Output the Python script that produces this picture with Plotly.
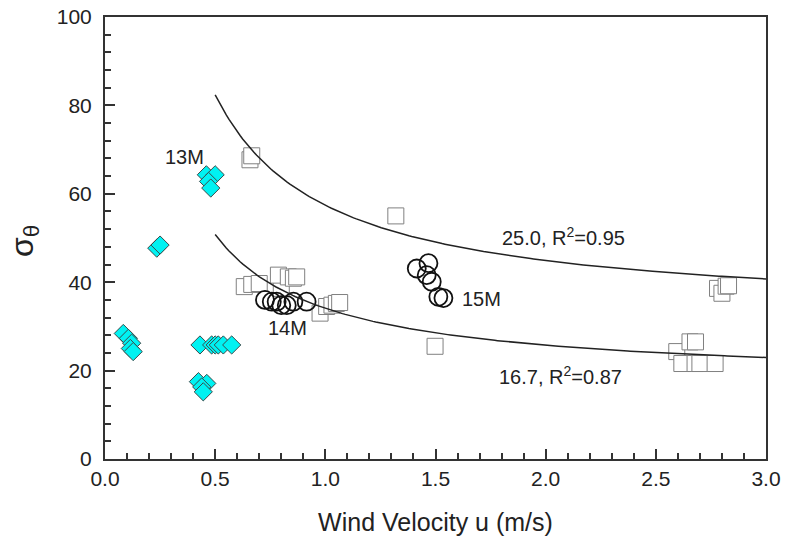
import numpy as np
import plotly.graph_objects as go

# ---- data ----
# 13M (cyan diamonds)
m13_u = [0.46, 0.50, 0.47, 0.48, 0.235, 0.25, 0.083, 0.106, 0.121, 0.115, 0.128,
         0.431, 0.484, 0.50, 0.514, 0.537, 0.575, 0.424, 0.462, 0.439, 0.446]
m13_s = [64.3, 64.3, 62.8, 61.3, 47.7, 48.4, 28.4, 27.3, 26.2, 25.0, 24.3,
         25.8, 25.8, 25.8, 25.8, 25.8, 25.8, 17.5, 17.1, 16.3, 15.2]

# other stations (open squares)
sq_u = [0.658, 0.666, 1.32, 1.498, 0.632, 0.666, 0.70, 0.80, 0.787, 0.832, 0.855, 0.87,
        0.976, 1.006, 1.03, 1.05, 1.065, 2.78, 2.80, 2.819, 2.83,
        2.595, 2.618, 2.655, 2.68, 2.678, 2.70, 2.769]
sq_s = [67.7, 68.6, 55.0, 25.5, 39.0, 39.5, 39.7, 38.6, 41.6, 41.2, 40.9, 41.2,
        33.0, 34.5, 34.8, 35.2, 35.4, 38.6, 37.5, 39.1, 39.2,
        24.3, 21.6, 26.5, 26.5, 21.6, 21.6, 21.6]

# 14M and 15M (open circles)
m14_u = [0.726, 0.757, 0.779, 0.80, 0.825, 0.855, 0.915]
m14_s = [36.0, 35.6, 35.6, 34.8, 34.8, 35.6, 35.6]
m15_u = [1.415, 1.468, 1.46, 1.483, 1.513, 1.536]
m15_s = [43.1, 44.3, 41.6, 40.1, 36.7, 36.4]

# fitted curves sigma = a/u + b
fit_upper = dict(a=25.0, b=32.4, label="25.0, R<sup>2</sup>=0.95")
fit_lower = dict(a=16.7, b=17.4, label="16.7, R<sup>2</sup>=0.87")
fit_u_range = (0.5, 3.0)

fig = go.Figure()

fig.add_trace(go.Scatter(
    x=sq_u, y=sq_s, mode="markers",
    marker=dict(symbol="square", size=16, color="white",
                line=dict(color="#808080", width=1)),
    showlegend=False))

fig.add_trace(go.Scatter(
    x=m13_u, y=m13_s, mode="markers",
    marker=dict(symbol="diamond", size=14, color="#00F2F2",
                line=dict(color="#3A4A4A", width=1)),
    showlegend=False))

for uu, ss in [(m14_u, m14_s), (m15_u, m15_s)]:
    fig.add_trace(go.Scatter(
        x=uu, y=ss, mode="markers",
        marker=dict(symbol="circle-open", size=18, color="#111111",
                    line=dict(color="#111111", width=1.8)),
        showlegend=False))

ug = np.linspace(fit_u_range[0], fit_u_range[1], 200)
for f in (fit_upper, fit_lower):
    fig.add_trace(go.Scatter(
        x=ug, y=f["a"] / ug + f["b"], mode="lines",
        line=dict(color="#222222", width=1.5), showlegend=False))

font = "Arial, Liberation Sans, sans-serif"
ann = [
    (0.363, 68.4, "13M", "center"),
    (0.826, 29.6, "14M", "center"),
    (1.611, 36.2, "15M", "left"),
    (1.793, 50.4, fit_upper["label"], "left"),
    (1.779, 18.8, fit_lower["label"], "left"),
]
for x, y, t, al in ann:
    fig.add_annotation(x=x, y=y, text=t, showarrow=False, xanchor=al,
                       yanchor="middle", font=dict(family=font, size=20, color="#222"))

# y-axis title placed as a rotated annotation
fig.add_annotation(xref="paper", yref="paper", x=-0.122, y=0.494,
                   text="σ<sub>θ</sub>", textangle=-90, showarrow=False,
                   xanchor="center", yanchor="middle",
                   font=dict(family=font, size=32, color="#222"))

axis_common = dict(
    showline=True, linecolor="#333333", linewidth=2, mirror=True,
    ticks="inside", ticklen=10, tickwidth=1.5, tickcolor="#333333",
    showgrid=False, zeroline=False, automargin=False,
    ticklabeloverflow="allow",
    tickfont=dict(family=font, size=21, color="#222"),
)

fig.update_xaxes(
    range=[0, 3.0], tickmode="array",
    tickvals=[0, 0.5, 1.0, 1.5, 2.0, 2.5, 3.0],
    ticktext=["0.0", "0.5", "1.0", "1.5", "2.0", "2.5", "3.0"],
    minor=dict(dtick=0.1, tick0=0, ticks="inside", ticklen=6, tickwidth=1.5, tickcolor="#333333"),
    title=dict(text="Wind Velocity u (m/s)", font=dict(family=font, size=25, color="#222"), standoff=24),
    **axis_common)

fig.update_yaxes(
    range=[0, 100], tickmode="array",
    tickvals=[0, 20, 40, 60, 80, 100],
    ticklabelstandoff=7,
    minor=dict(dtick=4, tick0=0, ticks="inside", ticklen=6, tickwidth=1.5, tickcolor="#333333"),
    **axis_common)

fig.update_layout(
    width=785, height=544,
    margin=dict(l=105, r=19, t=17, b=85),
    plot_bgcolor="white", paper_bgcolor="white",
)

# remove the default page margin so the figure fills the window exactly
fig.write_html("out.html",
               config={"displayModeBar": False},
               post_script="document.body.style.margin='0';document.body.style.overflow='hidden';")
